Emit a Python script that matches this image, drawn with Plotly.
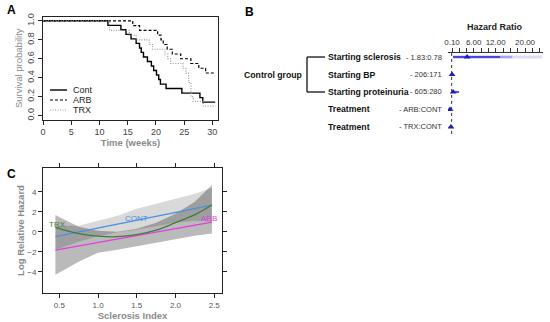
import plotly.graph_objects as go

W, H = 550, 322
def px(x): return x / W
def py(y): return 1 - y / H

FONT = "Liberation Sans, Arial, sans-serif"

# ---------------- Panel A data (Kaplan-Meier) ----------------
cont_t = [0, 11.5, 13.8, 14.7, 15.6, 16.5, 17.1, 17.4, 17.8, 18.5, 19.2, 19.6, 20.1, 20.5, 20.8, 21.8, 24.6, 27.8, 28.3, 30.5]
cont_s = [1.0, .952, .905, .857, .810, .762, .714, .667, .619, .571, .524, .476, .429, .381, .333, .286, .238, .190, .143, .143]
arb_t = [0, 15.9, 17.1, 20.3, 20.9, 21.3, 22.0, 22.9, 24.4, 26.2, 27.6, 28.8, 30.5]
arb_s = [1.0, .95, .90, .85, .80, .75, .70, .65, .60, .55, .50, .45, .45]
trx_t = [0, 11.8, 15.3, 16.5, 18.8, 19.4, 21.6, 22.1, 22.6, 24.8, 25.3, 25.8, 26.2, 26.6, 28.4, 30.5]
trx_s = [1.0, .90, .85, .80, .75, .70, .65, .60, .55, .50, .45, .35, .20, .15, .10, .10]
a_xticks = [0, 5, 10, 15, 20, 25, 30]
a_yticks = [0, 0.2, 0.4, 0.6, 0.8, 1.0]

# ---------------- Panel B data (forest) ----------------
row_pos = [5, 4, 3, 2, 1]
row_labels = ["Starting sclerosis", "Starting BP", "Starting proteinuria", "Treatment", "Treatment"]
row_values = ["- 1.83:0.78", "- 206:171", "- 605:280", "- ARB:CONT", "- TRX:CONT"]
hr_est = [4.2, 0.1, 0.4, -0.45, -0.2]
hr_lo = [0.35, -0.1, 0.0, -0.7, -0.5]
hr_hi = [13.2, 0.4, 2.0, -0.1, 0.3]
scl_ci_mid = [0.35, 16.5]
scl_ci_wide = [0.35, 24.6]
b_tickvals = [0.1, 2, 4, 6, 8, 10, 12, 14, 16, 18, 20, 22, 24]
b_ticktext = ["0.10", "", "", "6.00", "", "", "12.00", "", "", "", "20.00", "", ""]
ref_line = 0

# ---------------- Panel C data (log relative hazard) ----------------
sx = [0.45, 0.75, 1.0, 1.25, 1.5, 1.75, 2.0, 2.25, 2.47]
cont_y = [-0.5, -0.04, 0.34, 0.73, 1.11, 1.49, 1.88, 2.26, 2.65]
arb_y = [-1.85, -1.44, -1.10, -0.76, -0.42, -0.08, 0.26, 0.60, 0.95]
trx_y = [0.43, -0.2, -0.45, -0.5, -0.3, 0.15, 0.9, 1.7, 2.67]
band1_up = [1.67, 0.5, 0.1, 0.0, 0.3, 0.9, 1.8, 3.0, 4.67]
band1_lo = [-4.3, -3.0, -2.1, -1.8, -1.5, -1.1, -0.75, -0.4, -0.17]
band2_up = [0.6, 0.6, 1.1, 1.6, 2.3, 2.8, 3.25, 3.8, 4.4]
band2_lo = [-1.8, -1.0, -0.46, -0.05, 0.2, 0.55, 0.9, 1.1, 1.0]
c_xticks = [0.5, 1.0, 1.5, 2.0, 2.5]
c_yticks = [-4, -2, 0, 2, 4]

fig = go.Figure()

# Panel A traces
fig.add_trace(go.Scatter(x=cont_t, y=cont_s, mode="lines", line=dict(color="black", width=1.4, shape="hv"),
                         xaxis="x", yaxis="y", name="Cont"))
fig.add_trace(go.Scatter(x=arb_t, y=arb_s, mode="lines", line=dict(color="black", width=1.2, shape="hv", dash="3px,2px"),
                         xaxis="x", yaxis="y", name="ARB"))
fig.add_trace(go.Scatter(x=trx_t, y=trx_s, mode="lines", line=dict(color="#9a9a9a", width=1.2, shape="hv", dash="1px,1.5px"),
                         xaxis="x", yaxis="y", name="TRX"))

# Panel B traces
fig.add_trace(go.Scatter(x=scl_ci_wide, y=[row_pos[0]] * 2, mode="lines", line=dict(color="rgba(60,60,220,0.18)", width=3),
                         xaxis="x2", yaxis="y2"))
fig.add_trace(go.Scatter(x=scl_ci_mid, y=[row_pos[0]] * 2, mode="lines", line=dict(color="rgba(60,60,220,0.35)", width=2.5),
                         xaxis="x2", yaxis="y2"))
for i in range(len(row_pos)):
    fig.add_trace(go.Scatter(x=[hr_lo[i], hr_hi[i]], y=[row_pos[i]] * 2, mode="lines",
                             line=dict(color="#2a2ad0", width=1.6), xaxis="x2", yaxis="y2"))
fig.add_trace(go.Scatter(x=hr_est, y=row_pos, mode="markers",
                         marker=dict(symbol="triangle-up", color="#1c1cc8", size=6),
                         xaxis="x2", yaxis="y2"))

# Panel C traces
fig.add_trace(go.Scatter(x=sx + sx[::-1], y=band1_up + band1_lo[::-1], mode="lines", fill="toself",
                         fillcolor="rgba(0,0,0,0.27)", line=dict(width=0), xaxis="x3", yaxis="y3"))
fig.add_trace(go.Scatter(x=sx + sx[::-1], y=band2_up + band2_lo[::-1], mode="lines", fill="toself",
                         fillcolor="rgba(0,0,0,0.15)", line=dict(width=0), xaxis="x3", yaxis="y3"))
fig.add_trace(go.Scatter(x=sx, y=cont_y, mode="lines", line=dict(color="#4a8fe0", width=1.3), xaxis="x3", yaxis="y3"))
fig.add_trace(go.Scatter(x=sx, y=arb_y, mode="lines", line=dict(color="#e33ee0", width=1.3), xaxis="x3", yaxis="y3"))
fig.add_trace(go.Scatter(x=sx, y=trx_y, mode="lines", line=dict(color="#3d7d3d", width=1.3, shape="spline"), xaxis="x3", yaxis="y3"))

axis_common = dict(showgrid=False, zeroline=False, showline=True, linecolor="#222", linewidth=1,
                   ticks="outside", ticklen=4, tickcolor="#222", automargin=False)

fig.update_layout(
    width=W, height=H, margin=dict(l=0, r=0, t=0, b=0),
    paper_bgcolor="white", plot_bgcolor="white", showlegend=False,
    font=dict(family=FONT, color="#333"),
    xaxis=dict(**axis_common, domain=[px(43), px(218)], range=[0, 31], anchor="y", mirror=True,
               tickvals=a_xticks, tickfont=dict(size=9, color="#444"),
               title=dict(text="<b>Time (weeks)</b>", font=dict(size=9.5, color="#8a8a8a"), standoff=2)),
    yaxis=dict(**axis_common, domain=[py(119.5), py(17)], range=[-0.04, 1.04], anchor="x", mirror=True,
               tickvals=a_yticks, ticktext=["0.0", "0.2", "0.4", "0.6", "0.8", "1.0"], tickangle=-90,
               tickfont=dict(size=9, color="#444"),
               title=dict(text="Survival probability", font=dict(size=9.5, color="#8a8a8a"), standoff=2)),
    xaxis2=dict(showgrid=False, zeroline=False, showline=True, linecolor="#333", linewidth=1,
                ticks="outside", ticklen=4, tickcolor="#333", automargin=False,
                domain=[px(448), px(543)], range=[-1.0, 24.9], anchor="y2", side="top",
                tickvals=b_tickvals, ticktext=b_ticktext, tickfont=dict(size=8, color="#333")),
    yaxis2=dict(domain=[py(135), py(53)], range=[0.54, 5.23], anchor="x2", visible=False, automargin=False),
    xaxis3=dict(**axis_common, domain=[px(43), px(222)], range=[0.29, 2.60], anchor="y3", mirror="allticks",
                tickvals=c_xticks, ticktext=["0.5", "1.0", "1.5", "2.0", "2.5"],
                tickfont=dict(size=8, color="#555"),
                title=dict(text="<b>Sclerosis Index</b>", font=dict(size=9.5, color="#8a8a8a"), standoff=1)),
    yaxis3=dict(**axis_common, domain=[py(293), py(168)], range=[-6.13, 6.37], anchor="x3", mirror="allticks",
                tickvals=c_yticks, tickfont=dict(size=8, color="#555"),
                title=dict(text="<b>Log Relative Hazard</b>", font=dict(size=9.5, color="#8a8a8a"), standoff=0)),
)

ann = []
# panel letters
ann.append(dict(x=px(5), y=py(10), text="<b>A</b>", showarrow=False, xref="paper", yref="paper",
                xanchor="left", yanchor="middle", font=dict(size=12, color="black")))
ann.append(dict(x=px(243), y=py(12), text="<b>B</b>", showarrow=False, xref="paper", yref="paper",
                xanchor="left", yanchor="middle", font=dict(size=12, color="black")))
ann.append(dict(x=px(5), y=py(174), text="<b>C</b>", showarrow=False, xref="paper", yref="paper",
                xanchor="left", yanchor="middle", font=dict(size=12, color="black")))

# Panel A legend (drawn)
leg_names = ["Cont", "ARB", "TRX"]
leg_styles = [dict(color="black", width=1.4), dict(color="black", width=1.2, dash="3px,2px"),
              dict(color="#9a9a9a", width=1.2, dash="1px,1.5px")]
leg_y = [90, 100, 110]
shapes = []
for nm, st, yy in zip(leg_names, leg_styles, leg_y):
    shapes.append(dict(type="line", xref="paper", yref="paper", x0=px(50), x1=px(67), y0=py(yy), y1=py(yy), line=st))
    ann.append(dict(x=px(71), y=py(yy), text=nm, showarrow=False, xref="paper", yref="paper",
                    xanchor="left", yanchor="middle", font=dict(size=9, color="#222")))

# Panel B texts
ann.append(dict(x=px(495), y=py(27), text="<b>Hazard Ratio</b>", showarrow=False, xref="paper", yref="paper",
                xanchor="center", yanchor="middle", font=dict(size=9, color="#222")))
for yv, lab, val in zip(row_pos, row_labels, row_values):
    ann.append(dict(x=px(326), y=yv, text="<b>" + lab + "</b>", showarrow=False, xref="paper", yref="y2",
                    xanchor="left", yanchor="middle", font=dict(size=8.7, color="#111")))
    ann.append(dict(x=px(444), y=yv, text=val, showarrow=False, xref="paper", yref="y2",
                    xanchor="right", yanchor="middle", font=dict(size=7.5, color="#333")))
ann.append(dict(x=px(242), y=row_pos[1], text="<b>Control group</b>", showarrow=False, xref="paper", yref="y2",
                xanchor="left", yanchor="middle", font=dict(size=8.7, color="#111")))
# bracket
shapes.append(dict(type="line", xref="paper", yref="y2", x0=px(307), x1=px(307), y0=row_pos[0], y1=row_pos[2],
                   line=dict(color="#111", width=1.3)))
for yv in (row_pos[0], row_pos[2]):
    shapes.append(dict(type="line", xref="paper", yref="y2", x0=px(307), x1=px(325), y0=yv, y1=yv,
                       line=dict(color="#111", width=1.3)))
# reference dotted line
shapes.append(dict(type="line", xref="x2", yref="y2", x0=ref_line, x1=ref_line, y0=0.6, y1=5.23,
                   line=dict(color="#333", width=1, dash="dot")))

# Panel C curve labels
ann.append(dict(x=1.5, y=1.35, text="CONT", showarrow=False, xref="x3", yref="y3",
                xanchor="center", yanchor="middle", font=dict(size=8, color="#4a8fe0")))
ann.append(dict(x=2.43, y=1.3, text="ARB", showarrow=False, xref="x3", yref="y3",
                xanchor="center", yanchor="middle", font=dict(size=8, color="#e33ee0")))
ann.append(dict(x=0.48, y=0.75, text="TRX", showarrow=False, xref="x3", yref="y3",
                xanchor="center", yanchor="middle", font=dict(size=8, color="#3d7d3d")))

fig.update_layout(annotations=ann, shapes=shapes)
fig.write_html("out.html", config={"displayModeBar": False},
               post_script="document.body.style.margin='0';document.body.style.overflow='hidden';")
